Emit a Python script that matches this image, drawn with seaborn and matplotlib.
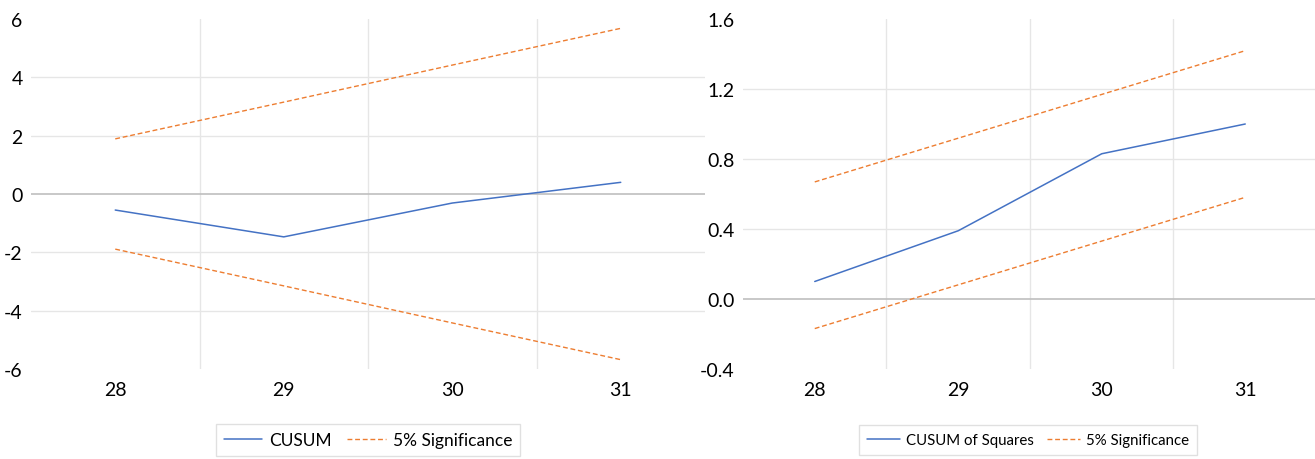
import matplotlib
matplotlib.use("Agg")
import matplotlib.pyplot as plt
import seaborn as sns
import pandas as pd

# ---- data ----
periods = [28, 29, 30, 31]
cusum = [-0.55, -1.47, -0.31, 0.40]
cusum_upper = [1.89, 3.15, 4.42, 5.68]
cusum_lower = [-1.89, -3.15, -4.42, -5.68]

cusumsq = [0.10, 0.39, 0.83, 1.00]
cusumsq_upper = [0.669, 0.919, 1.169, 1.419]
cusumsq_lower = [-0.169, 0.081, 0.331, 0.581]

left_yticks = [-6, -4, -2, 0, 2, 4, 6]
right_yticks = [-0.4, 0.0, 0.4, 0.8, 1.2, 1.6]

sns.set_theme(style="white")
plt.rcParams['font.family'] = ['Lato', 'DejaVu Sans']

BLUE = "#4472C4"
ORANGE = "#ED7D31"
GRID = "#E6E6E6"
AXIS = "#BFBFBF"

W, H = 1315, 460
fig = plt.figure(figsize=(W / 100, H / 100), dpi=100)

ax1 = fig.add_axes([31 / W, 1 - 370 / H, (705 - 31) / W, 350 / H])
ax2 = fig.add_axes([743 / W, 1 - 370 / H, (1317 - 743) / W, 350 / H])


def draw(ax, main, upper, lower, label, yticks, fmt, legend_cx, legend_fs):
    df = pd.DataFrame({"x": periods, "main": main, "upper": upper, "lower": lower})
    ylo, yhi = yticks[0], yticks[-1]
    # gridlines
    for t in yticks[1:-1]:
        if abs(t) > 1e-9:
            ax.axhline(t, color=GRID, lw=1.0, zorder=0)
    for xv in [28.5, 29.5, 30.5]:
        ax.axvline(xv, color=GRID, lw=1.0, zorder=0)
    ax.axhline(0, color=AXIS, lw=1.2, zorder=1)

    sns.lineplot(data=df, x="x", y="main", ax=ax, color=BLUE, lw=1.1,
                 label=label, zorder=3)
    sns.lineplot(data=df, x="x", y="upper", ax=ax, color=ORANGE, lw=1.0,
                 linestyle=(0, (3.5, 2)), label="5% Significance", zorder=3)
    sns.lineplot(data=df, x="x", y="lower", ax=ax, color=ORANGE, lw=1.0,
                 linestyle=(0, (3.5, 2)), zorder=3)

    ax.set_xlim(27.5, 31.5)
    ax.set_ylim(ylo, yhi)
    ax.set_xticks(periods)
    ax.set_xticklabels([str(p) for p in periods])
    ax.set_yticks(yticks)
    ax.set_yticklabels([fmt.format(t) for t in yticks])
    ax.set_xlabel("")
    ax.set_ylabel("")
    for s in ax.spines.values():
        s.set_visible(False)
    ax.tick_params(axis="both", length=0, labelsize=14, colors="#000000")
    ax.tick_params(axis="y", pad=6)
    ax.tick_params(axis="x", pad=9)
    ax.set_facecolor("white")

    handles, labels = ax.get_legend_handles_labels()
    ax.get_legend().remove()
    leg = fig.legend(handles[:2], labels[:2], loc="center",
                     bbox_to_anchor=(legend_cx / W, 1 - 441 / H),
                     ncol=2, frameon=True, fancybox=False, fontsize=legend_fs,
                     handlelength=2.2, handletextpad=0.4, columnspacing=0.9,
                     borderpad=0.45 * 12.5 / legend_fs, borderaxespad=0)
    leg.get_frame().set_edgecolor("#D9D9D9")
    leg.get_frame().set_linewidth(1.0)
    for t in leg.get_texts():
        t.set_color("#000000")


draw(ax1, cusum, cusum_upper, cusum_lower, "CUSUM", left_yticks, "{:g}", 368, 12.5)
draw(ax2, cusumsq, cusumsq_upper, cusumsq_lower, "CUSUM of Squares",
     right_yticks, "{:.1f}", 1028, 10.8)

fig.savefig("out.png", dpi=100, facecolor="white")
